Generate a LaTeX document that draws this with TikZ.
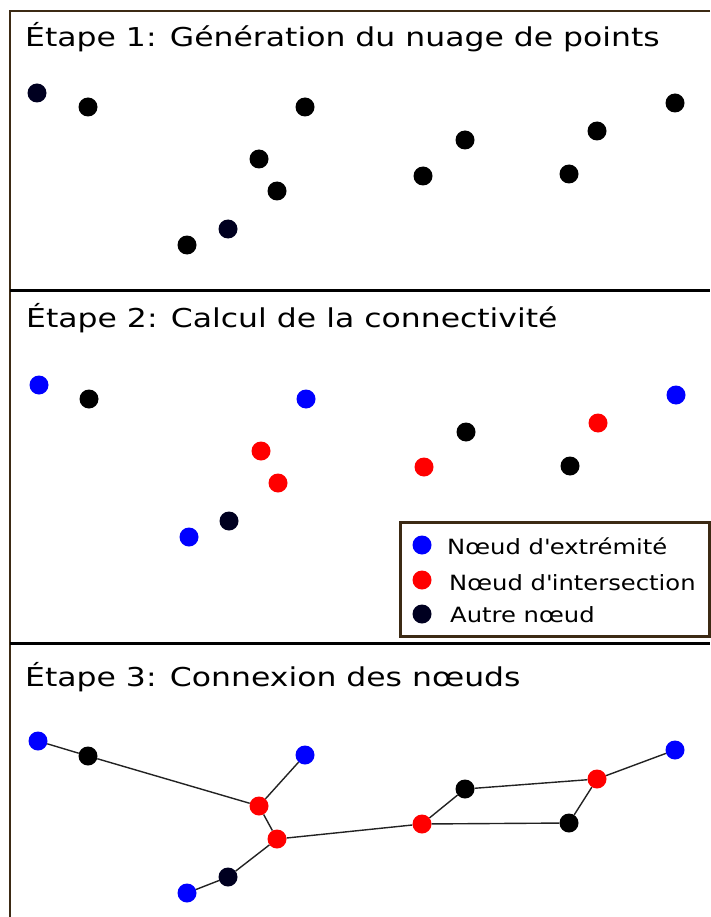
\documentclass[tikz,border=0pt]{standalone}
\usepackage{fontspec}
\setmainfont{DejaVu Sans}
\newfontfamily\widefont[FakeStretch=1.21]{DejaVu Sans}
\newfontfamily\legfont[FakeStretch=1.155]{DejaVu Sans}
\definecolor{framebrown}{HTML}{3C2A14}
\definecolor{navy}{HTML}{000020}
\definecolor{edgegray}{HTML}{222222}
\tikzset{
  dot/.style={circle,inner sep=0pt,minimum size=19pt,fill=#1},
  dot/.default=black,
  title/.style={anchor=base west,inner sep=0pt,font=\widefont\fontsize{26}{30}\selectfont},
  legtext/.style={anchor=base west,inner sep=0pt,font=\legfont\fontsize{21}{25}\selectfont},
  link/.style={draw=edgegray,line width=1.4pt},
  frame/.style={draw=framebrown,line width=2.5pt},
  divider/.style={draw=black,line width=3pt}
}
\begin{document}
\begin{tikzpicture}[x=1pt,y=-1pt]
\useasboundingbox (0,0) rectangle (710,917);
% frame
\coordinate (tl) at (10,11);
\coordinate (tr) at (710,11);
\coordinate (bl) at (10,917);
\draw[frame] (tr) -- (tl) -- (bl);
\coordinate (d1l) at (10,290); \coordinate (d1r) at (710,290);
\coordinate (d2l) at (10,643); \coordinate (d2r) at (710,643);
\draw[divider] (d1l) -- (d1r);
\draw[divider] (d2l) -- (d2r);
% titles
\node[title] (t1) at (25,47) {Étape 1: Génération du nuage de points};
\node[title] (t2) at (26,327) {Étape 2: Calcul de la connectivité};
\node[title] (t3) at (25,686) {Étape 3: Connexion des nœuds};
% panel 1
\node[dot=navy] (a1) at (37,93) {};
\node[dot] (a2) at (88,107) {};
\node[dot] (a3) at (305,107) {};
\node[dot] (a4) at (259,159) {};
\node[dot] (a5) at (277,191) {};
\node[dot=navy] (a6) at (228,229) {};
\node[dot] (a7) at (187,245) {};
\node[dot] (a8) at (423,176) {};
\node[dot] (a9) at (465,140) {};
\node[dot] (a10) at (569,174) {};
\node[dot] (a11) at (597,131) {};
\node[dot] (a12) at (675,103) {};
% panel 2
\node[dot=blue] (b1) at (39,385) {};
\node[dot] (b2) at (89,399) {};
\node[dot=blue] (b3) at (306,399) {};
\node[dot=red] (b4) at (261,451) {};
\node[dot=red] (b5) at (278,483) {};
\node[dot=navy] (b6) at (229,521) {};
\node[dot=blue] (b7) at (189,537) {};
\node[dot=red] (b8) at (424,467) {};
\node[dot] (b9) at (466,432) {};
\node[dot] (b10) at (570,466) {};
\node[dot=red] (b11) at (598,423) {};
\node[dot=blue] (b12) at (676,395) {};
% legend
\node[draw=framebrown,line width=2.8pt,minimum width=309pt,minimum height=114pt,anchor=north west,inner sep=0pt] (legend) at (399,521) {};
\node[dot=blue] (l1) at (422,545) {};
\node[dot=red] (l2) at (422,580) {};
\node[dot=navy] (l3) at (422,614) {};
\node[legtext] (lt1) at (447,554) {Nœud d\textquotesingle extrémité};
\node[legtext] (lt2) at (449,590) {Nœud d\textquotesingle intersection};
\node[legtext] (lt3) at (450,622) {Autre nœud};
% panel 3
\node[dot=blue] (c1) at (38,741) {};
\node[dot] (c2) at (88,756) {};
\node[dot=blue] (c3) at (305,755) {};
\node[dot=red] (c4) at (259,806) {};
\node[dot=red] (c5) at (277,839) {};
\node[dot=navy] (c6) at (228,877) {};
\node[dot=blue] (c7) at (187,893) {};
\node[dot=red] (c8) at (422,824) {};
\node[dot] (c9) at (465,789) {};
\node[dot] (c10) at (569,823) {};
\node[dot=red] (c11) at (597,779) {};
\node[dot=blue] (c12) at (675,750) {};
\draw[link] (c1) -- (c2);
\draw[link] (c2) -- (c4);
\draw[link] (c4) -- (c3);
\draw[link] (c4) -- (c5);
\draw[link] (c5) -- (c6);
\draw[link] (c6) -- (c7);
\draw[link] (c5) -- (c8);
\draw[link] (c8) -- (c9);
\draw[link] (c9) -- (c11);
\draw[link] (c11) -- (c12);
\draw[link] (c8) -- (c10);
\draw[link] (c10) -- (c11);
\end{tikzpicture}
\end{document}
